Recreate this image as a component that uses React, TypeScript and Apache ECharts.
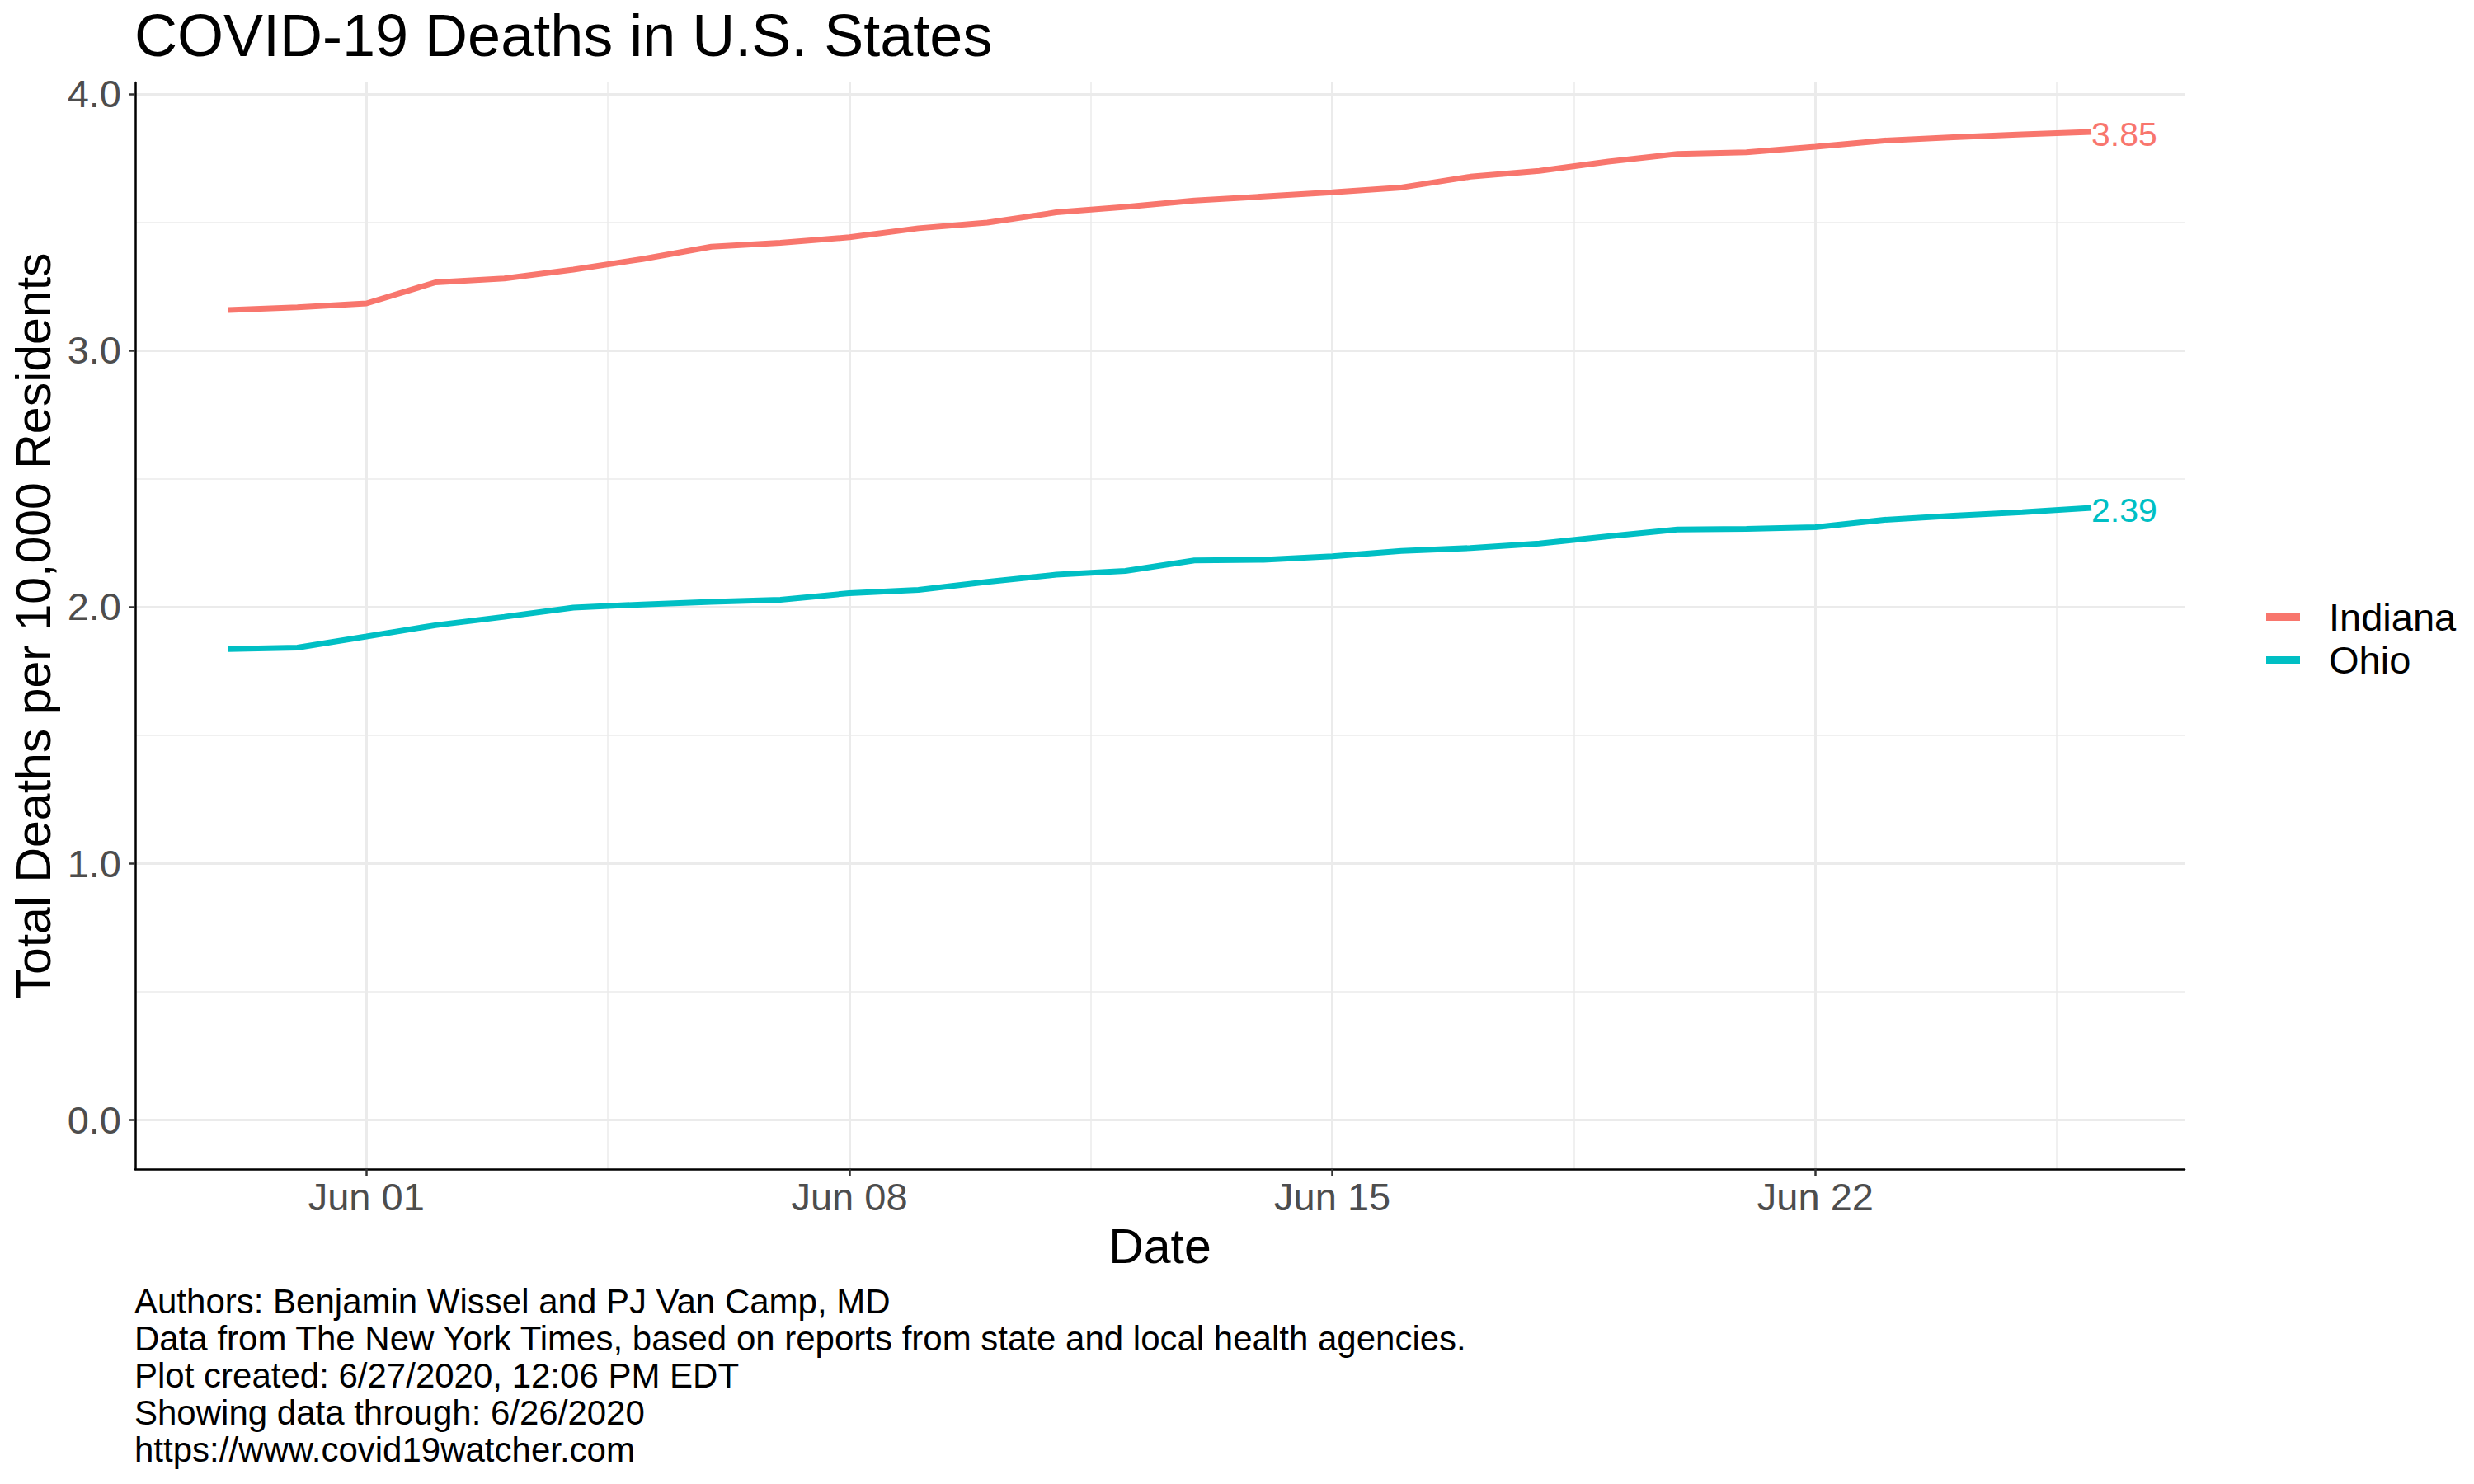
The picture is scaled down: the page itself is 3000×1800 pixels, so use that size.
import React, { useEffect, useRef } from "react";
import * as echarts from "echarts";

const dates = [
  "2020-05-30", "2020-05-31", "2020-06-01", "2020-06-02", "2020-06-03", "2020-06-04", "2020-06-05",
  "2020-06-06", "2020-06-07", "2020-06-08", "2020-06-09", "2020-06-10", "2020-06-11", "2020-06-12",
  "2020-06-13", "2020-06-14", "2020-06-15", "2020-06-16", "2020-06-17", "2020-06-18", "2020-06-19",
  "2020-06-20", "2020-06-21", "2020-06-22", "2020-06-23", "2020-06-24", "2020-06-25", "2020-06-26",
];

const indiana = [
  3.157, 3.168, 3.183, 3.265, 3.28, 3.315, 3.356, 3.404, 3.419, 3.441, 3.476, 3.498, 3.538, 3.559,
  3.584, 3.6, 3.616, 3.635, 3.677, 3.7, 3.736, 3.766, 3.772, 3.794, 3.818, 3.831, 3.842, 3.852,
];

const ohio = [
  1.835, 1.841, 1.884, 1.928, 1.961, 1.997, 2.009, 2.019, 2.027, 2.053, 2.066, 2.097, 2.125, 2.14,
  2.181, 2.183, 2.197, 2.218, 2.229, 2.247, 2.275, 2.301, 2.304, 2.31, 2.339, 2.355, 2.369, 2.386,
];

const xMajorTicks = ["2020-06-01", "2020-06-08", "2020-06-15", "2020-06-22"];
const xMinorTicks = ["2020-06-04T12:00:00Z", "2020-06-11T12:00:00Z", "2020-06-18T12:00:00Z", "2020-06-25T12:00:00Z"];
const yMajorTicks = [0, 1, 2, 3, 4];
const yMinorTicks = [0.5, 1.5, 2.5, 3.5];

const seriesNames = ["Indiana", "Ohio"];
const seriesColors = ["#F8766D", "#00BFC4"];

const titleText = "COVID-19 Deaths in U.S. States";
const xTitle = "Date";
const yTitle = "Total Deaths per 10,000 Residents";
const captionLines = [
  "Authors: Benjamin Wissel and PJ Van Camp, MD",
  "Data from The New York Times, based on reports from state and local health agencies.",
  "Plot created: 6/27/2020, 12:06 PM EDT",
  "Showing data through: 6/26/2020",
  "https://www.covid19watcher.com",
];

const MONTHS = ["Jan", "Feb", "Mar", "Apr", "May", "Jun", "Jul", "Aug", "Sep", "Oct", "Nov", "Dec"];
const ts = (s: string) => Date.parse(s.length === 10 ? s + "T00:00:00Z" : s);
const FONT = "'Liberation Sans', Arial, Helvetica, sans-serif";

export default function App() {
  const ref = useRef<HTMLDivElement>(null);

  useEffect(() => {
    if (!ref.current) return;
    const chart = echarts.init(ref.current, undefined, { renderer: "svg" });

    const xs = dates.map(ts);
    const span = xs[xs.length - 1] - xs[0];
    const xMin = xs[0] - span * 0.05;
    const xMax = xs[xs.length - 1] + span * 0.05;
    const allY = [...indiana, ...ohio, 0];
    const yLo = Math.min(...allY);
    const yHi = Math.max(...allY);
    const yMin = yLo - (yHi - yLo) * 0.05;
    const yMax = yHi + (yHi - yLo) * 0.05;

    const xMajor = xMajorTicks.map(ts);
    const xMinor = xMinorTicks.map(ts);

    const gridLines: any[] = [
      ...xMinor.map((v) => ({ xAxis: v, lineStyle: { color: "#EBEBEB", width: 1.5, type: "solid" } })),
      ...yMinorTicks.map((v) => ({ yAxis: v, lineStyle: { color: "#EBEBEB", width: 1.5, type: "solid" } })),
      ...xMajor.map((v) => ({ xAxis: v, lineStyle: { color: "#EBEBEB", width: 3, type: "solid" } })),
      ...yMajorTicks.map((v) => ({ yAxis: v, lineStyle: { color: "#EBEBEB", width: 3, type: "solid" } })),
    ];

    const fmtDate = (v: number) => {
      const d = new Date(v);
      return MONTHS[d.getUTCMonth()] + " " + String(d.getUTCDate()).padStart(2, "0");
    };

    const dataSeries = [indiana, ohio].map((vals, i) => ({
      name: seriesNames[i],
      type: "line",
      z: 3,
      data: vals.map((v, j) => [xs[j], v]),
      showSymbol: false,
      symbol: "none",
      color: seriesColors[i],
      lineStyle: { color: seriesColors[i], width: 7 },
      endLabel: {
        show: true,
        distance: 0,
        offset: [0, 3],
        formatter: (p: any) => Number(p.value[1]).toFixed(2),
        color: seriesColors[i],
        fontSize: 41,
        fontFamily: FONT,
      },
      silent: true,
    }));

    chart.setOption({
      animation: false,
      textStyle: { fontFamily: FONT },
      title: {
        text: titleText,
        left: 163,
        top: 7,
        padding: 0,
        textStyle: { fontSize: 72, fontWeight: "normal", color: "#000", fontFamily: FONT },
      },
      legend: {
        data: seriesNames,
        orient: "vertical",
        left: 2748,
        top: 725,
        padding: 0,
        itemGap: 5,
        itemWidth: 41,
        itemHeight: 9,
        icon: "rect",
        textStyle: { fontSize: 47, lineHeight: 47, color: "#000", fontFamily: FONT, padding: [0, 0, 0, 30] },
        selectedMode: false,
      },
      grid: { left: 164, right: 351, top: 100, bottom: 382, containLabel: false },
      xAxis: {
        type: "value",
        min: xMin,
        max: xMax,
        z: 4,
        name: xTitle,
        nameLocation: "middle",
        nameGap: 64,
        nameTextStyle: { fontSize: 59, color: "#000", fontFamily: FONT },
        axisLine: { show: true, onZero: false, lineStyle: { color: "#000", width: 2.5 } },
        axisTick: { show: true, customValues: xMajor, length: 8, lineStyle: { color: "#333", width: 2.5 } },
        axisLabel: {
          customValues: xMajor,
          formatter: fmtDate,
          margin: 10,
          fontSize: 47,
          color: "#4D4D4D",
          fontFamily: FONT,
        },
        splitLine: { show: false },
      },
      yAxis: {
        type: "value",
        min: yMin,
        max: yMax,
        z: 4,
        name: yTitle,
        nameLocation: "middle",
        nameGap: 94,
        nameRotate: 90,
        nameTextStyle: { fontSize: 59, color: "#000", fontFamily: FONT },
        axisLine: { show: true, onZero: false, lineStyle: { color: "#000", width: 2.5 } },
        axisTick: { show: true, customValues: yMajorTicks, length: 8, lineStyle: { color: "#333", width: 2.5 } },
        axisLabel: {
          customValues: yMajorTicks,
          formatter: (v: number) => v.toFixed(1),
          margin: 17,
          fontSize: 47,
          color: "#4D4D4D",
          fontFamily: FONT,
        },
        splitLine: { show: false },
      },
      graphic: [
        {
          type: "text",
          left: 163,
          top: 1556,
          silent: true,
          style: {
            text: captionLines.join("\n"),
            fontSize: 42,
            lineHeight: 45,
            fill: "#000",
            fontFamily: FONT,
          },
        },
      ],
      series: [
        {
          name: "grid",
          type: "line",
          data: [],
          z: 1,
          silent: true,
          markLine: {
            z: 1,
            silent: true,
            symbol: ["none", "none"],
            label: { show: false },
            emphasis: { disabled: true },
            data: gridLines,
          },
        },
        ...dataSeries,
      ],
    });

    return () => chart.dispose();
  }, []);

  return (
    <div
      ref={ref}
      style={{ position: "fixed", left: 0, top: 0, width: 3000, height: 1800, background: "#fff" }}
    />
  );
}
